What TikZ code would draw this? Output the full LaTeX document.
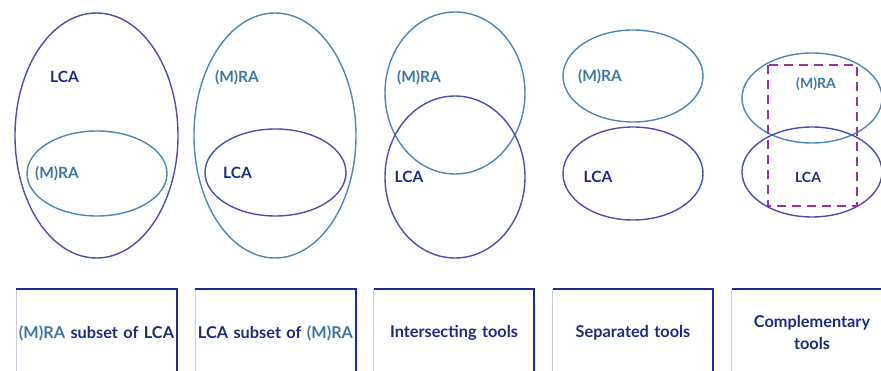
\documentclass[tikz,border=0pt]{standalone}
\usepackage{fontspec}
\setmainfont{Lato}
\usetikzlibrary{calc}
\definecolor{lcablue}{HTML}{4A4FAE}
\definecolor{mrablue}{HTML}{4F86B3}
\definecolor{lcatext}{HTML}{1E2A80}
\definecolor{mratext}{HTML}{3C78A4}
\definecolor{framecol}{HTML}{1F2B8F}
\definecolor{frameshade}{HTML}{C9CDE2}
\definecolor{dashpurple}{HTML}{93379A}
\newcommand{\lcacolor}{lcablue}
\newcommand{\mracolor}{mrablue}
\newcommand{\thickness}{1.4pt}
\newcommand{\mra}{\textcolor{mratext}{(M)RA}}
\tikzset{
  lcaring/.style={draw=\lcacolor, line width=\thickness},
  mraring/.style={draw=\mracolor, line width=\thickness},
  lcalabel/.style={text=lcatext, font=\fontsize{15.5}{18}\selectfont\bfseries, inner sep=0pt},
  mralabel/.style={text=mratext, font=\fontsize{15.5}{18}\selectfont\bfseries, inner sep=0pt},
  capbox/.style={minimum width=160pt, minimum height=88pt, text width=158pt, align=center,
    text=lcatext, font=\fontsize{16.3}{22}\selectfont\bfseries, inner sep=0pt},
  boxedge/.style={draw=framecol, line width=1.6pt},
  boxshade/.style={draw=frameshade, line width=1.2pt},
  dashbox/.style={draw=dashpurple, line width=1.8pt, dash pattern=on 9pt off 6pt}
}
\begin{document}
\begin{tikzpicture}[x=1pt, y=-1pt]
\useasboundingbox (0,0) rectangle (881,371);
%subset 1
\draw[lcaring] (96.5,135.5) ellipse [x radius=81.5pt, y radius=122.5pt];
\draw[mraring] (97,173.5) ellipse [x radius=70pt, y radius=42.5pt];
\node[lcalabel] (l1) at (64.5,77) {LCA};
\node[mralabel] (m1) at (57,174) {(M)RA};
%subset 2
\draw[mraring] (275,135.5) ellipse [x radius=81pt, y radius=122.5pt];
\draw[lcaring] (275.5,172.5) ellipse [x radius=70.5pt, y radius=43.5pt];
\node[mralabel] (m2) at (237,78) {(M)RA};
\node[lcalabel] (l2) at (237.5,173) {LCA};
%intersecting
\draw[mraring] (455,93) ellipse [x radius=70pt, y radius=81pt];
\draw[lcaring] (455,177) ellipse [x radius=70pt, y radius=81pt];
\node[mralabel] (m3) at (419,78) {(M)RA};
\node[lcalabel] (l3) at (409,177) {LCA};
%separated
\draw[mraring] (633,76) ellipse [x radius=70pt, y radius=46pt];
\draw[lcaring] (633,173.5) ellipse [x radius=70pt, y radius=46.5pt];
\node[mralabel] (m4) at (600,77) {(M)RA};
\node[lcalabel] (l4) at (598,177) {LCA};
%complementary
\draw[mraring] (812,98) ellipse [x radius=70pt, y radius=45pt];
\draw[lcaring] (812,172) ellipse [x radius=70pt, y radius=45pt];
\node[mralabel, font=\fontsize{14}{16}\selectfont\bfseries] (m5) at (816,84) {(M)RA};
\node[lcalabel, font=\fontsize{14}{16}\selectfont\bfseries] (l5) at (808,177) {LCA};
\draw[dashbox] (768,65) rectangle (857,206);
%captions
\node[capbox] (c1) at (96.5,333) {\mra{} subset of LCA};
\node[capbox] (c2) at (275.5,333) {LCA subset of \mra};
\node[capbox] (c3) at (454,333) {Intersecting tools};
\node[capbox] (c4) at (633,333) {Separated tools};
\node[capbox] (c5) at (812,333) {Complementary\\tools};
\draw[boxshade] (c1.north west) -- (c1.south west);
\draw[boxshade] (c2.north west) -- (c2.south west);
\draw[boxshade] (c3.north west) -- (c3.south west);
\draw[boxshade] (c4.north west) -- (c4.south west);
\draw[boxshade] (c5.north west) -- (c5.south west);
\draw[boxedge] (c1.north west) -- (c1.north east) -- (c1.south east);
\draw[boxedge] (c2.north west) -- (c2.north east) -- (c2.south east);
\draw[boxedge] (c3.north west) -- (c3.north east) -- (c3.south east);
\draw[boxedge] (c4.north west) -- (c4.north east) -- (c4.south east);
\draw[boxedge] (c5.north west) -- (c5.north east) -- (c5.south east);
\end{tikzpicture}
\end{document}
